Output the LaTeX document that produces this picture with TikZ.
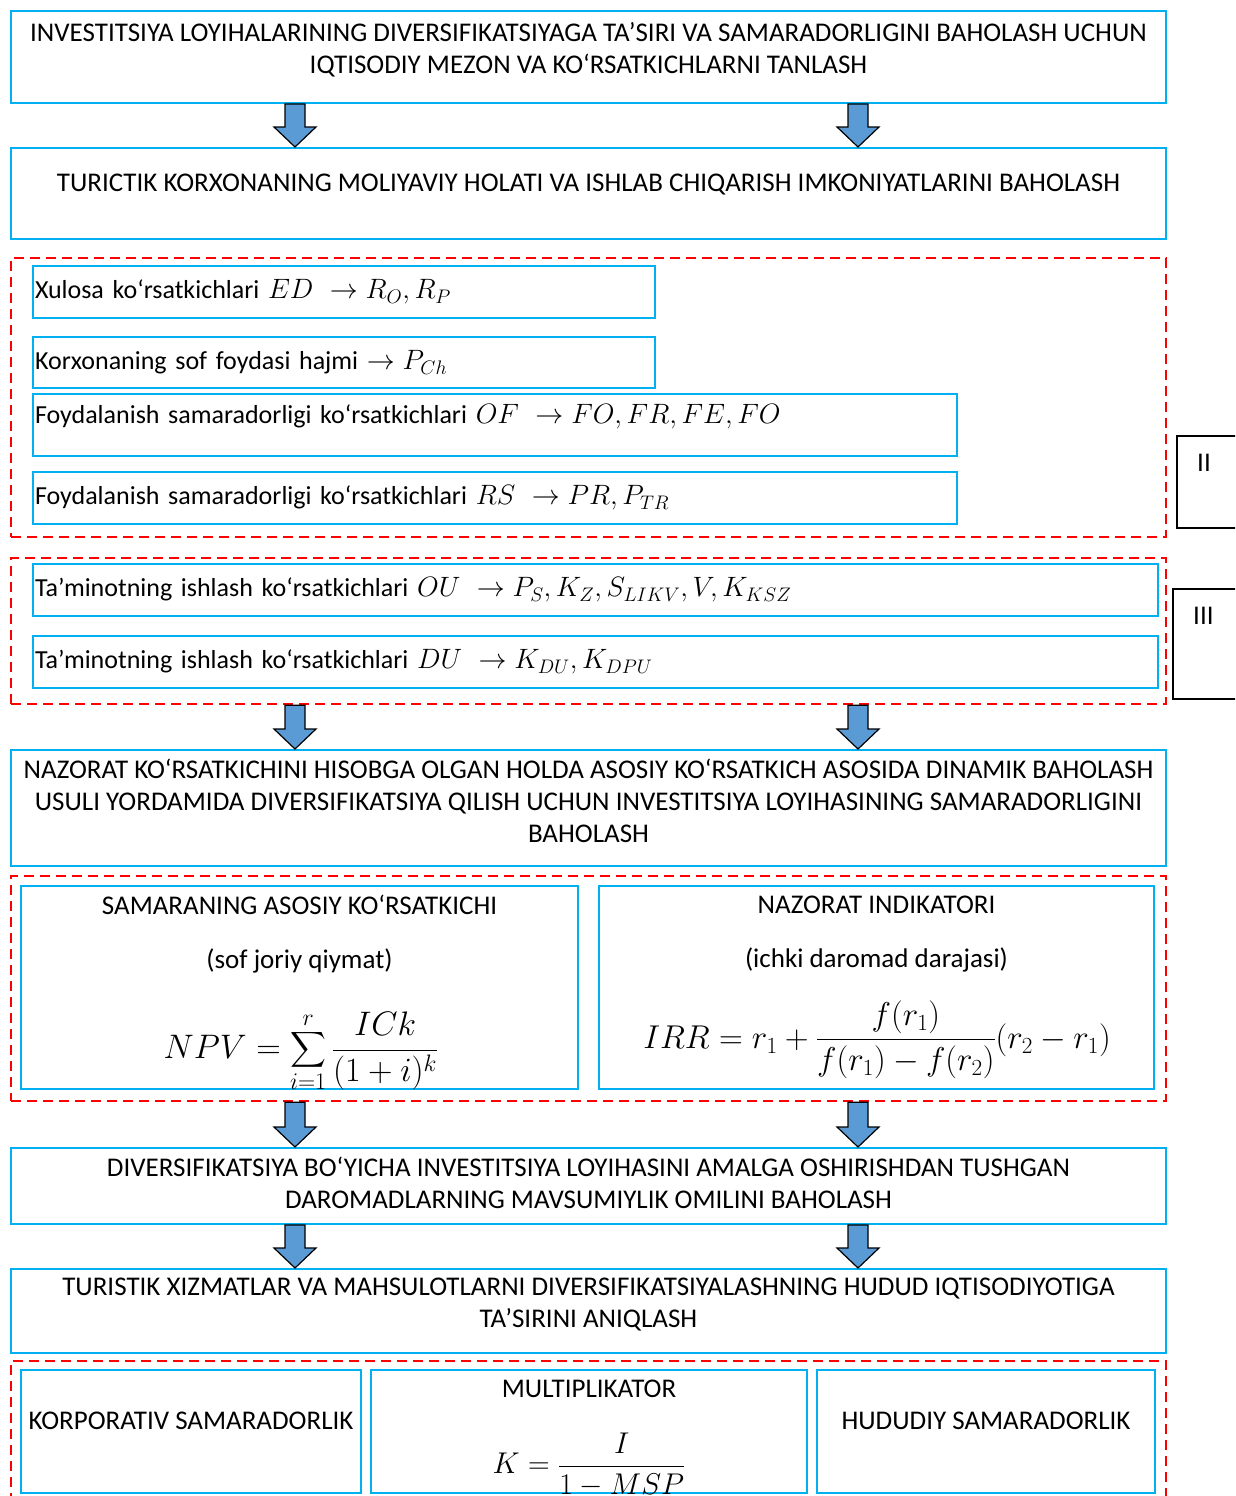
\RequirePackage{fix-cm}
\documentclass[tikz,border=0pt]{standalone}
\usepackage{fontspec}
\setmainfont{Carlito}
\usepackage{amsmath}
\usetikzlibrary{calc}
\usetikzlibrary{positioning}
\definecolor{kok}{HTML}{00B0F0}
\definecolor{strelkarang}{HTML}{5B9BD5}
\newcommand{\ifoda}[1]{{\fontsize{28}{30}\selectfont$#1$}}
\newcommand{\strelka}[3]{%
 \path (#1.south -| #3) coordinate (s1) (#2.north -| #3) coordinate (s2);
 \draw[strelka] ($(s1)+(-10,0)$) -- ($(s1)+(10,0)$) -- ($(s2)+(10,-20)$) -- ($(s2)+(21,-20)$) -- (s2) -- ($(s2)+(-21,-20)$) -- ($(s2)+(-10,-20)$) -- cycle;}

\begin{document}
\begin{tikzpicture}[x=1pt,y=-1pt,font=\fontsize{27}{32}\selectfont]
\tikzstyle{katta}=[draw=kok, line width=2pt, minimum width=1155pt]
\tikzstyle{ichki}=[draw=kok, line width=2pt, align=left, inner xsep=2pt, minimum height=52pt, font=\fontsize{26}{32}\selectfont]
\tikzstyle{guruh}=[draw=red, dash pattern=on 10pt off 6pt, line width=2.5pt, minimum width=1155pt]
\tikzstyle{yozuv}=[align=center, inner sep=0pt]
\tikzstyle{strelka}=[draw=black, fill=strelkarang, line width=1.2pt]
\tikzstyle{rim}=[draw=black, line width=2pt]
\clip (0,0) rectangle (1235,1496);
\coordinate (chap) at (295,0);
\coordinate (ong) at (858,0);

% tanlash
\node (maqsad) [katta, minimum height=92pt] at (588.5,57) {};
\node (maqsadmatn) [yozuv, below=12pt of maqsad.north] {INVESTITSIYA LOYIHALARINING DIVERSIFIKATSIYAGA TA’SIRI VA SAMARADORLIGINI BAHOLASH UCHUN\\IQTISODIY MEZON VA KO‘RSATKICHLARNI TANLASH};

% moliyaviy holat
\node (holat) [katta, minimum height=91pt] at (588.5,193.5) {};
\node (holatmatn) [yozuv, below=27pt of holat.north] {TURICTIK KORXONANING MOLIYAVIY HOLATI VA ISHLAB CHIQARISH IMKONIYATLARINI BAHOLASH};
\strelka{maqsad}{holat}{chap}
\strelka{maqsad}{holat}{ong}

% II guruh
\node (guruh1) [guruh, minimum height=279pt] at (588.5,397.5) {};
\node (xulosa) [ichki, text width=618pt] at (344,292) {Xulosa ko‘rsatkichlari \ifoda{ED\ \to R_O, R_P}};
\node (sof) [ichki, text width=618pt, minimum height=51pt] at (344,362.5) {Korxonaning sof foydasi hajmi \ifoda{\to P_{Ch}}};
\node (of) [ichki, text width=920pt, minimum height=62pt, text depth=23pt] at (495,425) {Foydalanish samaradorligi ko‘rsatkichlari \ifoda{OF\ \to FO, FR, FE, FO}};
\node (rs) [ichki, text width=920pt] at (495,498) {Foydalanish samaradorligi ko‘rsatkichlari \ifoda{RS\ \to PR, P_{TR}}};
\node (ikki) [rim, anchor=north west, minimum width=100pt, minimum height=92pt] at (1176,435) {};
\node (ikkimatn) [anchor=north west, inner sep=0pt] at ($(ikki.north west)+(21,19)$) {II};

% III guruh
\node (guruh2) [guruh, minimum height=146pt] at (588.5,631) {};
\node (ou) [ichki, text width=1121pt] at (595.5,590) {Ta’minotning ishlash ko‘rsatkichlari \ifoda{OU\ \to P_S, K_Z, S_{LIKV}, V, K_{KSZ}}};
\node (du) [ichki, text width=1121pt] at (595.5,662) {Ta’minotning ishlash ko‘rsatkichlari \ifoda{DU\ \to K_{DU}, K_{DPU}}};
\node (uch) [rim, anchor=north west, minimum width=100pt, minimum height=110pt] at (1172,588) {};
\node (uchmatn) [anchor=north west, inner sep=0pt] at ($(uch.north west)+(21,19)$) {III};

% dinamik baholash
\node (nazorat) [katta, minimum height=116pt] at (588.5,808) {};
\node (nazoratmatn) [yozuv, below=10pt of nazorat.north] {NAZORAT KO‘RSATKICHINI HISOBGA OLGAN HOLDA ASOSIY KO‘RSATKICH ASOSIDA DINAMIK BAHOLASH\\USULI YORDAMIDA DIVERSIFIKATSIYA QILISH UCHUN INVESTITSIYA LOYIHASINING SAMARADORLIGINI\\BAHOLASH};
\strelka{guruh2}{nazorat}{chap}
\strelka{guruh2}{nazorat}{ong}

% NPV va IRR
\node (guruh3) [guruh, minimum height=225pt] at (588.5,988.5) {};
\node (npv) [ichki, minimum width=557pt, minimum height=203pt] at (299.5,987.5) {};
\node (npvmatn) [yozuv, below=10pt of npv.north] {SAMARANING ASOSIY KO‘RSATKICHI\\[22pt](sof joriy qiymat)};
\begin{scope}
\clip (npv.north west) rectangle (npv.south east);
\node (npvformula) at (301,1052) {\fontsize{34}{36}\selectfont$\displaystyle NPV=\sum_{i=1}^{r}\frac{ICk}{(1+i)^k}$};
\end{scope}
\node (irr) [ichki, minimum width=555pt, minimum height=203pt] at (876.5,987.5) {};
\node (irrmatn) [yozuv, below=11pt of irr.north] {NAZORAT INDIKATORI\\[22pt](ichki daromad darajasi)};
\node (irrformula) at (877,1040) {\fontsize{33}{35}\selectfont$\displaystyle IRR=r_1+\frac{f(r_1)}{f(r_1)-f(r_2)}(r_2-r_1)$};

% mavsumiylik
\node (mavsum) [katta, minimum height=76pt] at (588.5,1186) {};
\node (mavsummatn) [yozuv, below=10pt of mavsum.north] {DIVERSIFIKATSIYA BO‘YICHA INVESTITSIYA LOYIHASINI AMALGA OSHIRISHDAN TUSHGAN\\DAROMADLARNING MAVSUMIYLIK OMILINI BAHOLASH};
\strelka{guruh3}{mavsum}{chap}
\strelka{guruh3}{mavsum}{ong}

% hudud iqtisodiyotiga ta'sir
\node (tasir) [katta, minimum height=84pt] at (588.5,1311) {};
\node (tasirmatn) [yozuv, below=10pt of tasir.north] {TURISTIK XIZMATLAR VA MAHSULOTLARNI DIVERSIFIKATSIYALASHNING HUDUD IQTISODIYOTIGA\\TA’SIRINI ANIQLASH};
\strelka{mavsum}{tasir}{chap}
\strelka{mavsum}{tasir}{ong}

% samaradorlik
\node (guruh4) [guruh, minimum height=150pt] at (588.5,1436) {};
\node (korp) [ichki, minimum width=340pt, minimum height=123pt] at (191,1431.5) {};
\node (korpmatn) at (191,1421) {KORPORATIV SAMARADORLIK};
\node (mult) [ichki, minimum width=436pt, minimum height=123pt] at (589,1431.5) {};
\node (multmatn) [yozuv, below=11pt of mult.north] {MULTIPLIKATOR};
\begin{scope}
\clip (mult.north west) rectangle (mult.south east);
\node (kformula) at (589,1465) {\fontsize{30}{32}\selectfont$\displaystyle K=\frac{I}{1-MSP}$};
\end{scope}
\node (hudud) [ichki, minimum width=338pt, minimum height=123pt] at (986,1431.5) {};
\node (hududmatn) at (986,1421) {HUDUDIY SAMARADORLIK};
\end{tikzpicture}
\end{document}
